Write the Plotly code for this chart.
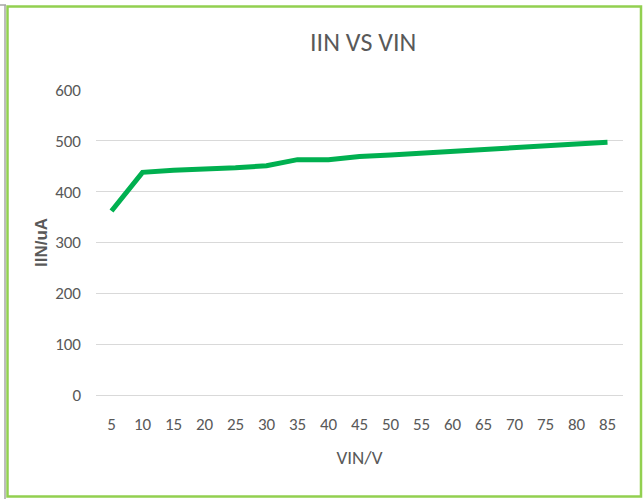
import plotly.graph_objects as go

vin_labels = ["5", "10", "15", "20", "25", "30", "35", "40", "45", "50",
              "55", "60", "65", "70", "75", "80", "85"]
iin_ua = [362, 438, 442, 444, 447, 451, 463, 463, 469, 472,
          476, 480, 484, 487, 491, 494, 497]
y_ticks = [0, 100, 200, 300, 400, 500, 600]

W, H = 643, 499
L, R, T, B = 96, 20, 90, 104
pw, ph = W - L - R, H - T - B

def px_x(x):
    return (x - L) / pw

def px_y(y):
    return (H - B - y) / ph

narrow = "Carlito, Roboto, sans-serif"
gray = "#595959"

fig = go.Figure()
fig.add_trace(go.Scatter(
    x=vin_labels, y=iin_ua, mode="lines",
    line=dict(color="#00B050", width=5),
    hoverinfo="x+y", showlegend=False,
))

fig.update_layout(
    width=W, height=H,
    margin=dict(l=L, r=R, t=T, b=B, pad=0),
    paper_bgcolor="white", plot_bgcolor="white",
    title=dict(text="IIN VS VIN", x=0.507, xref="paper", xanchor="center",
               y=1 - 42 / H, yref="container", yanchor="middle",
               font=dict(family=narrow, size=26, color=gray)),
    xaxis=dict(type="category", range=[-0.5, len(vin_labels) - 0.5],
               showgrid=False, zeroline=False,
               showline=False, ticks="", ticklabelstandoff=17,
               tickfont=dict(family=narrow, size=17, color=gray),
               title=dict(text="VIN/V", standoff=16,
                          font=dict(family=narrow, size=19, color=gray))),
    yaxis=dict(range=[0, 600], tickvals=y_ticks, showgrid=True,
               gridcolor="#D9D9D9", gridwidth=1.3, zeroline=True,
               zerolinecolor="#D9D9D9", zerolinewidth=1.3, showline=False,
               ticks="", ticklabelstandoff=14,
               tickfont=dict(family=narrow, size=17, color=gray),
               title=dict(text="<b>IIN/uA</b>", standoff=3,
                          font=dict(family="Liberation Sans, Arial, sans-serif",
                                    size=17, color=gray))),
    shapes=[
        dict(type="line", xref="paper", yref="paper",
             x0=px_x(5), x1=px_x(5), y0=px_y(5), y1=px_y(499),
             line=dict(color="#A6A6A6", width=1.5)),
        dict(type="line", xref="paper", yref="paper",
             x0=px_x(0), x1=px_x(6), y0=px_y(5), y1=px_y(5),
             line=dict(color="#A6A6A6", width=1.5)),
        dict(type="rect", xref="paper", yref="paper",
             x0=px_x(7.5), x1=px_x(641), y0=px_y(6.5), y1=px_y(496.5),
             line=dict(color="#92D050", width=2.5), fillcolor="rgba(0,0,0,0)"),
    ],
)

fig.write_html("out.html",
               config={"displayModeBar": False},
               post_script="document.body.style.margin='0';"
                           "document.body.style.overflow='hidden';")
